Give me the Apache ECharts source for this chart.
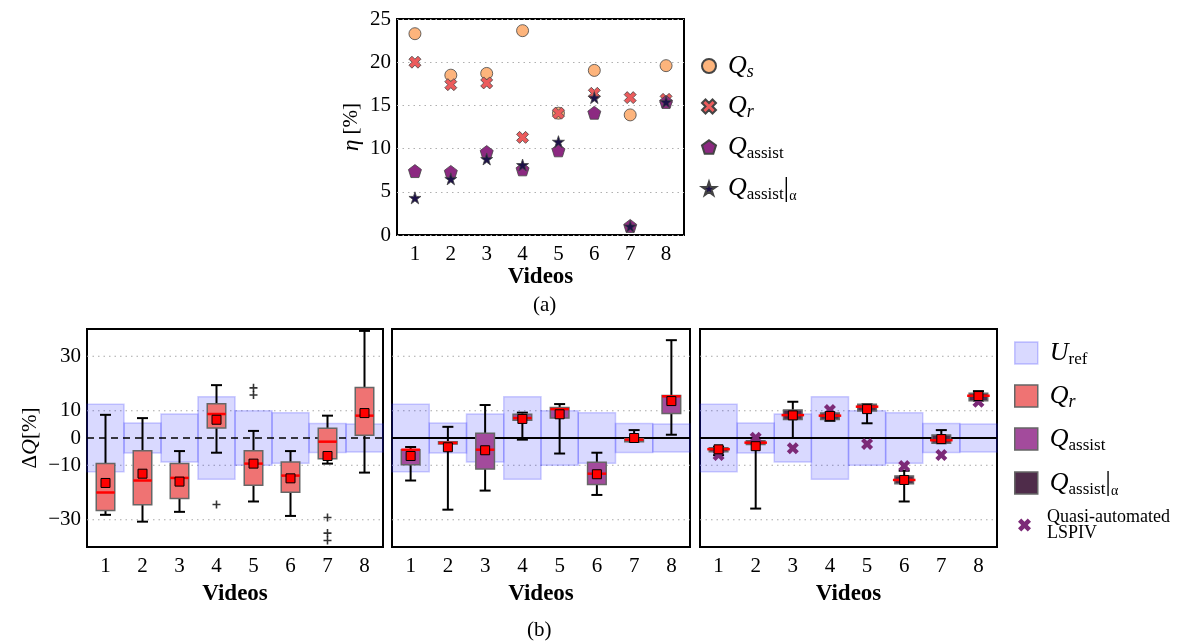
<!DOCTYPE html>
<html>
<head>
<meta charset="utf-8">
<script src="https://cdn.jsdelivr.net/npm/echarts@6/dist/echarts.min.js"></script>
<style>html,body{margin:0;padding:0;background:#fff}#c{width:1189px;height:642px}</style>
</head>
<body>
<div id="c"></div>
<script>
// ---------- data ----------
const videos = ['1','2','3','4','5','6','7','8'];
// (a) efficiency eta [%]
const etaQs           = [23.3, 18.5, 18.7, 23.65, 14.1, 19.05, 13.9, 19.6];
const etaQr           = [20.0, 17.4, 17.6, 11.3, 14.1, 16.4, 15.9, 15.7];
const etaQassist      = [7.4, 7.3, 9.6, 7.6, 9.8, 14.15, 1.05, 15.4];
const etaQassistAlpha = [4.3, 6.5, 8.8, 8.1, 10.8, 15.9, 1.0, 15.4];
const etaTicks = [0, 5, 10, 15, 20, 25];
// (b) Delta Q [%]
const dqTicks = [-30, -10, 0, 10, 30];
const uRef = [12.4, 5.5, 8.8, 15.1, 10.0, 9.3, 5.3, 5.1];
// Q_r boxes
const qrQ1     = [-26.6, -24.5, -22.2, 3.7, -17.3, -19.9, -7.6, 1.0];
const qrQ3     = [-9.4, -4.65, -9.4, 12.6, -4.65, -8.8, 3.55, 18.55];
const qrMedian = [-20.0, -15.6, -14.65, 8.8, -9.4, -13.8, -1.35, 8.2];
const qrMean   = [-16.5, -13.1, -16.0, 6.7, -9.4, -14.8, -6.6, 9.15];
const qrWhiskerLow  = [-28.2, -30.7, -27.1, -5.4, -23.3, -28.6, -9.4, -12.7];
const qrWhiskerHigh = [8.5, 7.3, -4.8, 19.4, 2.6, -4.8, 8.2, 39.3];
const qrOutlierVideo = ['4', '5', '5', '7', '7', '7'];
const qrOutlierValue = [-24.4, 18.4, 15.8, -29.2, -34.9, -37.6];
// Q_assist boxes
const qaQ1     = [-9.8, -2.2, -11.4, 6.5, 7.3, -17.1, -1.35, 9.0];
const qaQ3     = [-4.3, -1.35, 1.7, 8.7, 11.2, -8.9, -0.25, 15.6];
const qaMedian = [-4.3, -1.8, -4.3, 7.3, 10.6, -13.1, -0.6, 15.3];
const qaMean   = [-6.6, -3.4, -4.5, 7.0, 8.7, -13.3, 0.0, 13.55];
const qaWhiskerLow  = [-15.6, -26.3, -19.3, -0.6, -5.7, -20.9, -1.3, 1.2];
const qaWhiskerHigh = [-3.3, 4.1, 12.1, 9.3, 12.45, -5.4, 2.9, 35.9];
// Q_assist|alpha boxes
const qaaQ1     = [-5.0, -2.4, 6.8, 6.8, 9.9, -16.8, -1.9, 13.7];
const qaaQ3     = [-3.6, -1.0, 10.3, 9.2, 12.4, -13.9, 1.1, 16.4];
const qaaMedian = [-4.1, -1.7, 8.4, 8.2, 11.5, -15.4, -0.8, 15.5];
const qaaMean   = [-4.15, -3.0, 8.3, 8.1, 10.6, -15.4, -0.4, 15.4];
const qaaWhiskerLow  = [-6.3, -25.9, 0.0, 6.3, 5.4, -23.3, -1.9, 13.7];
const qaaWhiskerHigh = [-3.3, -0.1, 13.3, 9.3, 12.4, -12.0, 2.9, 17.2];
const lspiv = [-6.2, 0.1, -3.8, 10.3, -2.2, -10.3, -6.2, 13.3];

// ---------- styling ----------
const FONT = "'Liberation Serif','DejaVu Serif',serif";
const X_PATH = 'path://M0,2.5 L2.5,0 L5,2.5 L7.5,0 L10,2.5 L7.5,5 L10,7.5 L7.5,10 L5,7.5 L2.5,10 L0,7.5 L2.5,5 Z';
const STAR_PATH = 'path://M50,0 L61.2,34.5 L97.6,34.5 L68.2,55.9 L79.4,90.5 L50,69.1 L20.6,90.5 L31.8,55.9 L2.4,34.5 L38.8,34.5 Z';
const PENT_PATH = 'path://M50,0 L97.6,34.5 L79.4,90.5 L20.6,90.5 L2.4,34.5 Z';
const PLUS_PATH = 'path://M4,0 H6 V4 H10 V6 H6 V10 H4 V6 H0 V4 H4 Z';
const minus = v => (v < 0 ? '\u2212' + (-v) : String(v));

const gridBase = {show: true, borderColor: '#000', borderWidth: 2, backgroundColor: 'transparent'};
const grids = [
  Object.assign({left: 397, top: 19, width: 287, height: 216}, gridBase),
  Object.assign({left: 87, top: 329, width: 296, height: 218}, gridBase),
  Object.assign({left: 392, top: 329, width: 298, height: 218}, gridBase),
  Object.assign({left: 700, top: 329, width: 297, height: 218}, gridBase)
];
const tickStyle = {inside: true, length: 6, lineStyle: {color: '#000', width: 1.2}};

const xAxes = [], yAxes = [];
for (let g = 0; g < 4; g++) {
  xAxes.push({
    type: 'category', gridIndex: g, data: videos, boundaryGap: true, position: 'bottom',
    axisLine: {show: false}, splitLine: {show: false},
    axisTick: Object.assign({alignWithLabel: true}, tickStyle),
    axisLabel: {color: '#000', fontSize: 21, fontFamily: FONT, margin: 9},
    name: 'Videos', nameLocation: 'middle', nameGap: g === 0 ? 31 : 36,
    nameTextStyle: {fontFamily: FONT, fontWeight: 'bold', fontSize: 23, color: '#000'}
  });
}
for (let g = 0; g < 4; g++) {
  xAxes.push({
    type: 'category', gridIndex: g, data: videos, boundaryGap: true, position: 'top',
    axisLine: {show: false}, splitLine: {show: false}, axisLabel: {show: false},
    axisTick: Object.assign({alignWithLabel: true}, tickStyle)
  });
}
yAxes.push({
  type: 'value', gridIndex: 0, min: 0, max: 25, interval: 5, position: 'left',
  axisLine: {show: false}, axisTick: tickStyle,
  axisLabel: {color: '#000', fontSize: 21, fontFamily: FONT, margin: 6},
  splitLine: {show: true, lineStyle: {color: '#b0b0b0', type: [1.5, 4], width: 1}},
  name: '{e|\u03b7} [%]', nameLocation: 'middle', nameGap: 34,
  nameTextStyle: {fontFamily: FONT, fontSize: 21, color: '#000',
    rich: {e: {fontFamily: FONT, fontStyle: 'italic', fontSize: 23}}}
});
for (let g = 1; g < 4; g++) {
  yAxes.push({
    type: 'value', gridIndex: g, min: -40, max: 40, interval: 10, position: 'left',
    axisLine: {show: false}, splitLine: {show: false},
    axisTick: Object.assign({customValues: dqTicks}, tickStyle),
    axisLabel: {show: g === 1, customValues: dqTicks, color: '#000', fontSize: 21, fontFamily: FONT, margin: 6, formatter: minus},
    name: g === 1 ? '{n|\u0394}{q|Q}{n|[%]}' : '', nameLocation: 'middle', nameGap: 46,
    nameTextStyle: {fontFamily: FONT, fontSize: 21, color: '#000',
      rich: {n: {fontFamily: FONT, fontSize: 21}, q: {fontFamily: FONT, fontStyle: 'italic', fontSize: 22}}}
  });
}
yAxes.push({
  type: 'value', gridIndex: 0, min: 0, max: 25, interval: 5, position: 'right',
  axisLine: {show: false}, splitLine: {show: false}, axisLabel: {show: false}, axisTick: tickStyle
});
for (let g = 1; g < 4; g++) {
  yAxes.push({
    type: 'value', gridIndex: g, min: -40, max: 40, interval: 10, position: 'right',
    axisLine: {show: false}, splitLine: {show: false}, axisLabel: {show: false},
    axisTick: Object.assign({customValues: dqTicks}, tickStyle)
  });
}

// ---------- series builders ----------
const series = [];
function pts(arr) { return videos.map((v, i) => [v, arr[i]]); }

// (a) scatter
const topMarkers = [
  {name: 'Qs', data: etaQs, symbol: 'circle', size: 12, color: '#fdb47c'},
  {name: 'Qr', data: etaQr, symbol: X_PATH, size: 12, color: '#ec5b5c'},
  {name: 'Qassist', data: etaQassist, symbol: PENT_PATH, size: 13, color: '#8c2981'},
  {name: 'QassistAlpha', data: etaQassistAlpha, symbol: STAR_PATH, size: 12, color: '#1d1147'}
];
topMarkers.forEach((m, k) => series.push({
  type: 'scatter', name: m.name, xAxisIndex: 0, yAxisIndex: 0, z: 3 + k,
  data: pts(m.data), symbol: m.symbol, symbolSize: m.size,
  itemStyle: {color: m.color, borderColor: '#444', borderWidth: 0.8, opacity: 1}
}));

function gridLineSeries(p, values, style, z) {
  series.push({
    type: 'custom', xAxisIndex: p, yAxisIndex: p, z: z, silent: true,
    data: values.map(v => ['1', v]),
    renderItem: function (params, api) {
      const cs = params.coordSys;
      const y = api.coord([0, api.value(1)])[1];
      return {type: 'line', shape: {x1: cs.x, y1: y, x2: cs.x + cs.width, y2: y}, style: style};
    }
  });
}
function bandSeries(p) {
  series.push({
    type: 'custom', name: 'Uref', xAxisIndex: p, yAxisIndex: p, z: 2, silent: true,
    itemStyle: {color: 'rgba(0,0,255,0.15)', borderColor: 'rgba(40,40,255,0.25)', borderWidth: 1.5},
    data: pts(uRef),
    renderItem: function (params, api) {
      const i = api.value(0);
      const w = api.size([1, 0])[0];
      const top = api.coord([i, api.value(1)]);
      const bot = api.coord([i, -api.value(1)]);
      return {type: 'rect', shape: {x: top[0] - w / 2, y: top[1], width: w, height: bot[1] - top[1]},
        style: {fill: 'rgba(0,0,255,0.15)', stroke: 'rgba(40,40,255,0.22)', lineWidth: 1.5}};
    }
  });
}
function boxSeries(p, name, q1, q3, med, wlo, whi, fill, medExt) {
  series.push({
    type: 'custom', name: name, xAxisIndex: p, yAxisIndex: p, z: 4, silent: true,
    itemStyle: {color: fill, borderColor: '#666', borderWidth: 1.5},
    data: videos.map((v, i) => [v, q1[i], q3[i], med[i], wlo[i], whi[i]]),
    renderItem: function (params, api) {
      const i = api.value(0);
      const bw = api.size([1, 0])[0] * 0.5;
      const c = v => api.coord([i, v]);
      const x = c(api.value(1))[0];
      const y1 = c(api.value(1))[1], y3 = c(api.value(2))[1], ym = c(api.value(3))[1];
      const ylo = c(api.value(4))[1], yhi = c(api.value(5))[1];
      const cap = 5.5;
      const ws = {stroke: '#000', lineWidth: 2};
      return {type: 'group', children: [
        {type: 'line', shape: {x1: x, y1: y3, x2: x, y2: yhi}, style: ws},
        {type: 'line', shape: {x1: x - cap, y1: yhi, x2: x + cap, y2: yhi}, style: ws},
        {type: 'line', shape: {x1: x, y1: y1, x2: x, y2: ylo}, style: ws},
        {type: 'line', shape: {x1: x - cap, y1: ylo, x2: x + cap, y2: ylo}, style: ws},
        {type: 'rect', shape: {x: x - bw / 2, y: Math.min(y1, y3), width: bw, height: Math.max(Math.abs(y1 - y3), 1.5)},
          style: {fill: fill, stroke: '#666', lineWidth: 1.5}},
        {type: 'line', shape: {x1: x - bw / 2 - medExt, y1: ym, x2: x + bw / 2 + medExt, y2: ym},
          style: {stroke: '#ff0000', lineWidth: 2.5}}
      ]};
    }
  });
}
function meanSeries(p, mean) {
  series.push({
    type: 'scatter', name: 'mean' + p, xAxisIndex: p, yAxisIndex: p, z: 6, silent: true,
    data: pts(mean), symbol: 'rect', symbolSize: 9,
    itemStyle: {color: '#ff0000', borderColor: '#000', borderWidth: 1, opacity: 1}
  });
}
const gridDots = dqTicks.filter(v => v !== 0);
const dotStyle = {stroke: '#a8a8a8', lineWidth: 1, lineDash: [1.5, 4]};

// panel 1: Q_r
gridLineSeries(1, gridDots, dotStyle, 1);
bandSeries(1);
gridLineSeries(1, [0], {stroke: '#000', lineWidth: 1.3, lineDash: [7, 5]}, 3);
boxSeries(1, 'QrBox', qrQ1, qrQ3, qrMedian, qrWhiskerLow, qrWhiskerHigh, '#ef7373', 0);
series.push({
  type: 'scatter', name: 'outliers', xAxisIndex: 1, yAxisIndex: 1, z: 5, silent: true,
  data: qrOutlierVideo.map((v, k) => [v, qrOutlierValue[k]]),
  symbol: PLUS_PATH, symbolSize: 8, itemStyle: {color: '#000'}
});
meanSeries(1, qrMean);

// panel 2: Q_assist
gridLineSeries(2, gridDots, dotStyle, 1);
bandSeries(2);
gridLineSeries(2, [0], {stroke: '#000', lineWidth: 2}, 3);
boxSeries(2, 'QaBox', qaQ1, qaQ3, qaMedian, qaWhiskerLow, qaWhiskerHigh, '#a34b9c', 0);
meanSeries(2, qaMean);

// panel 3: Q_assist|alpha
gridLineSeries(3, gridDots, dotStyle, 1);
bandSeries(3);
gridLineSeries(3, [0], {stroke: '#000', lineWidth: 2}, 3);
series.push({
  type: 'scatter', name: 'LSPIV', xAxisIndex: 3, yAxisIndex: 3, z: 5, silent: true,
  data: pts(lspiv), symbol: X_PATH, symbolSize: 12,
  itemStyle: {color: '#7c2a78', opacity: 1}
});
boxSeries(3, 'QaaBox', qaaQ1, qaaQ3, qaaMedian, qaaWhiskerLow, qaaWhiskerHigh, '#4f2c4a', 2);
meanSeries(3, qaaMean);

// ---------- legends ----------
const rich = {
  q: {fontFamily: FONT, fontStyle: 'italic', fontSize: 26, lineHeight: 30, padding: [0, 0, 0, 7], color: '#000'},
  s: {fontFamily: FONT, fontSize: 17, lineHeight: 14, verticalAlign: 'bottom', color: '#000'},
  si: {fontFamily: FONT, fontStyle: 'italic', fontSize: 18, lineHeight: 14, verticalAlign: 'bottom', color: '#000'},
  bar: {fontFamily: FONT, fontSize: 28, lineHeight: 30, color: '#000'},
  a: {fontFamily: FONT, fontSize: 14, lineHeight: 8, verticalAlign: 'bottom', color: '#000'}
};
const legendText = {
  Qs: '{q|Q}{si|s}', Qr: '{q|Q}{si|r}', Qassist: '{q|Q}{s|assist}', QassistAlpha: '{q|Q}{s|assist}{bar||}{a|\u03b1}',
  Uref: '{q|U}{s|ref}', QrBox: '{q|Q}{si|r}', QaBox: '{q|Q}{s|assist}', QaaBox: '{q|Q}{s|assist}{bar||}{a|\u03b1}'
};
const legends = [
  {orient: 'vertical', left: 696, top: 48, itemGap: 12.5, itemWidth: 14, itemHeight: 14, selectedMode: false,
    data: ['Qs', 'Qr', 'Qassist', 'QassistAlpha'], formatter: n => legendText[n], textStyle: {rich: rich}},
  {orient: 'vertical', left: 1009, top: 335, itemGap: 15, itemWidth: 23, itemHeight: 22, selectedMode: false,
    data: [
      {name: 'Uref', icon: 'rect', itemStyle: {color: 'rgba(0,0,255,0.15)', borderColor: 'rgba(40,40,255,0.25)', borderWidth: 1.5}},
      {name: 'QrBox', icon: 'rect', itemStyle: {color: '#ef7373', borderColor: '#666', borderWidth: 1.5}},
      {name: 'QaBox', icon: 'rect', itemStyle: {color: '#a34b9c', borderColor: '#666', borderWidth: 1.5}},
      {name: 'QaaBox', icon: 'rect', itemStyle: {color: '#4f2c4a', borderColor: '#666', borderWidth: 1.5}}
    ],
    formatter: n => legendText[n], textStyle: {rich: rich}},
  {orient: 'vertical', left: 1013, top: 503, itemWidth: 13, itemHeight: 13, selectedMode: false,
    data: ['LSPIV'], formatter: () => 'Quasi-automated\nLSPIV',
    textStyle: {fontFamily: FONT, fontSize: 18, lineHeight: 16, color: '#000', padding: [0, 0, 0, 11]}}
];

const option = {
  animation: false,
  backgroundColor: '#ffffff',
  textStyle: {fontFamily: FONT},
  grid: grids, xAxis: xAxes, yAxis: yAxes, legend: legends, series: series,
  graphic: [
    {type: 'text', left: 533, top: 295, style: {text: '(a)', font: "21px 'Liberation Serif'", fill: '#000'}},
    {type: 'text', left: 527, top: 620, style: {text: '(b)', font: "21px 'Liberation Serif'", fill: '#000'}}
  ]
};
const chart = echarts.init(document.getElementById('c'));
chart.setOption(option);
</script>
</body>
</html>
